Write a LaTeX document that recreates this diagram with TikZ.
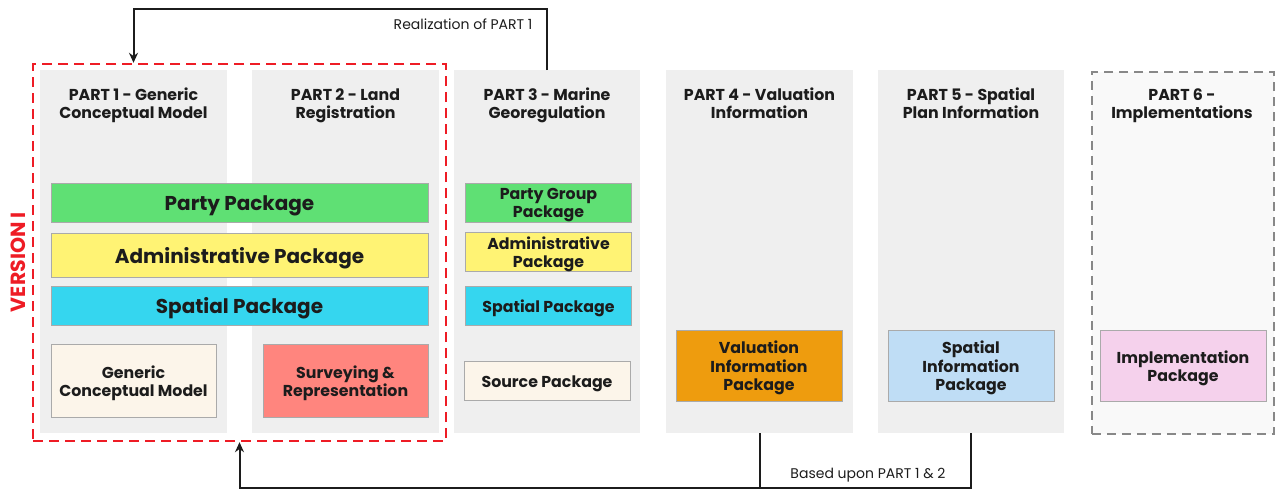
\documentclass[tikz,border=0pt]{standalone}
\usepackage{fontspec}
\setmainfont{Poppins}[BoldFont=Poppins Bold]
\usetikzlibrary{arrows.meta}
\definecolor{panelgray}{HTML}{EFEFEF}
\definecolor{panellight}{HTML}{F9F9F9}
\definecolor{dashgray}{HTML}{888888}
\definecolor{boxline}{HTML}{AAAAAA}
\definecolor{ink}{HTML}{1C1C1C}
\definecolor{vred}{HTML}{EE1C25}
\definecolor{cgreen}{HTML}{5FE074}
\definecolor{cyellow}{HTML}{FFF374}
\definecolor{ccyan}{HTML}{35D6EF}
\definecolor{ccream}{HTML}{FCF5EA}
\definecolor{csalmon}{HTML}{FF857E}
\definecolor{corange}{HTML}{EE9C0E}
\definecolor{cblue}{HTML}{BFDDF5}
\definecolor{cpink}{HTML}{F5D1EC}
% a strut that keeps every text line optically centred in its box
\newcommand\capstrut{\rule[-0.27em]{0pt}{1.39em}}
\tikzset{
  struts/.style={execute at begin node=\capstrut, execute at end node=\capstrut},
  panel/.style={fill=panelgray, draw=none, anchor=north west, inner sep=0pt},
  head/.style={struts, font=\bfseries\fontsize{15.8}{18}\selectfont, text=ink, align=center, inner sep=0pt},
  pkg/.style={struts, draw=boxline, line width=0.8pt, text=ink, align=center, inner sep=0pt,
    font=\bfseries\fontsize{15.8}{18.5}\selectfont},
  bigpkg/.style={pkg, font=\bfseries\fontsize{20}{24}\selectfont},
  multi/.style={text depth=0pt, yshift=-0.5pt},
  conn/.style={draw=ink, line width=2pt},
  arr/.style={conn, -{Stealth[length=10pt,width=9pt]}},
  lbl/.style={font=\fontsize{14}{16}\selectfont, text=ink},
}
\begin{document}
\begin{tikzpicture}[x=1pt,y=-1pt]
\useasboundingbox (0,0) rectangle (1275,491);

% column panels
\node[panel, minimum width=187, minimum height=363] (p1) at (40,70) {};
\node[panel, minimum width=187, minimum height=363] (p2) at (252,70) {};
\node[panel, minimum width=186, minimum height=363] (p3) at (454,70) {};
\node[panel, minimum width=187, minimum height=363] (p4) at (666,70) {};
\node[panel, minimum width=186, minimum height=363] (p5) at (878,70) {};
\node[panel, fill=panellight, draw=dashgray, line width=2pt, dash pattern=on 9pt off 6pt,
  minimum width=182, minimum height=362] (p6) at (1091,71) {};

% column headings
\node[head] (h1) at (133.5,105.5) {PART 1 - Generic\\Conceptual Model};
\node[head] (h2) at (345.5,105.5) {PART 2 - Land\\Registration};
\node[head] (h3) at (547,105.5) {PART 3 - Marine\\Georegulation};
\node[head] (h4) at (759.5,105.5) {PART 4 - Valuation\\Information};
\node[head] (h5) at (971,105.5) {PART 5 - Spatial\\Plan Information};
\node[head] (h6) at (1182,105.5) {PART 6 -\\Implementations};

% shared packages of parts 1 and 2
\node[bigpkg, fill=cgreen, minimum width=377, minimum height=39] (party) at (239.5,202.5) {Party Package};
\node[bigpkg, fill=cyellow, minimum width=377, minimum height=44] (admin) at (239.5,255) {Administrative Package};
\node[bigpkg, fill=ccyan, minimum width=377, minimum height=39] (spatial) at (239.5,305.5) {Spatial Package};
\path (133.5,380.5) node[pkg, fill=ccream, minimum width=165, minimum height=73] (gcm) {}
  node[pkg, draw=none, multi] (gcmt) {Generic\\Conceptual Model};
\path (345.5,380.5) node[pkg, fill=csalmon, minimum width=165, minimum height=73] (surv) {}
  node[pkg, draw=none, multi] (survt) {Surveying \&\\Representation};

% part 3 packages
\path (548.5,202.5) node[pkg, fill=cgreen, minimum width=166, minimum height=39] (pg) {}
  node[pkg, draw=none, multi] (pgt) {Party Group\\Package};
\path (548.5,251.5) node[pkg, fill=cyellow, minimum width=166, minimum height=39] (admin3) {}
  node[pkg, draw=none, multi] (admin3t) {Administrative\\Package};
\node[pkg, fill=ccyan, minimum width=166, minimum height=39] (spatial3) at (548.5,305.5) {Spatial Package};
\node[pkg, fill=ccream, minimum width=166, minimum height=39] (source) at (547,380.5) {Source Package};

% parts 4 to 6 packages
\path (759,365.5) node[pkg, fill=corange, minimum width=166, minimum height=71] (val) {}
  node[pkg, draw=none, multi] (valt) {Valuation\\Information\\Package};
\path (971,365.5) node[pkg, fill=cblue, minimum width=166, minimum height=71] (spi) {}
  node[pkg, draw=none, multi] (spit) {Spatial\\Information\\Package};
\path (1183,365.5) node[pkg, fill=cpink, minimum width=166, minimum height=71] (impl) {}
  node[pkg, draw=none, multi] (implt) {Implementation\\Package};

% version I frame
\node[draw=vred, line width=2.4pt, dash pattern=on 10pt off 6pt, fill=none, inner sep=0pt,
  minimum width=413, minimum height=377] (v1) at (239.5,252.5) {};
\node[rotate=90, text=vred, font=\bfseries\fontsize{20.5}{24}\selectfont] (vlab) at (18,262) {VERSION I};

% realization link
\draw[arr] (p3.north) -- ++(0,-61) -| (h1 |- v1.north);
\node[lbl, anchor=east] (rl) at (536,24) {Realization of PART 1};

% based-upon link
\coordinate (b5) at ([yshift=-55] p5.south);
\draw[conn] (p4.south) -- (p4.south |- b5);
\draw[arr] (p5.south) -- (b5) -| (v1.south);
\node[lbl] (bl) at (868,475) {Based upon PART 1 \& 2};
\end{tikzpicture}
\end{document}
